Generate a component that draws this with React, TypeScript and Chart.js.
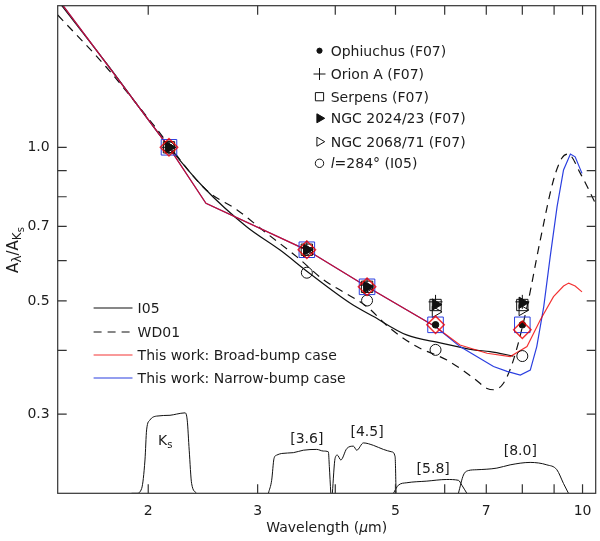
import { useEffect, useRef } from "react";
import { Chart, registerables } from "chart.js";
import { drawPoint } from "chart.js/helpers";

Chart.register(...registerables);

// ---- values ----
// band centres (um): Ks, IRAC [3.6], [4.5], [5.8], [8.0]
const bandWave = [2.16, 3.6, 4.5, 5.8, 8.0];
const ophiuchus = [1.0, 0.63, 0.533, 0.449, 0.449];
const orionA = [1.0, 0.636, 0.537, 0.498, 0.498];
const serpens = [1.0, 0.63, 0.533, 0.491, 0.491];
const ngc2024 = [1.0, 0.63, 0.533, 0.492, 0.496];
const ngc2068 = [1.0, 0.625, 0.53, 0.476, 0.48];
const l284 = [1.0, 0.568, 0.501, 0.401, 0.39];
const broadBand = [1.0, 0.63, 0.533, 0.449, 0.439];
const narrowBand = [1.0, 0.63, 0.533, 0.449, 0.449];

// extinction curves
const i05Wave = [1.43, 1.71, 2.17, 2.45, 2.88, 3.26, 3.64, 4.23, 4.61, 5.21, 5.9, 6.68, 7.1, 7.74];
const i05Ratio = [1.94, 1.465, 0.995, 0.837, 0.699, 0.629, 0.566, 0.495, 0.466, 0.429, 0.414, 0.401, 0.398, 0.39];

const wd01Wave = [1.43, 1.71, 2.01, 2.48, 2.78, 3.1, 3.47, 3.83, 4.12, 4.5, 4.9, 5.41, 6.05, 6.68, 7.02, 7.19, 7.46, 7.74, 8.14, 8.55, 8.98, 9.26, 9.48, 9.92, 10.52];
const wd01Ratio = [1.816, 1.438, 1.131, 0.825, 0.754, 0.679, 0.61, 0.55, 0.521, 0.487, 0.442, 0.407, 0.383, 0.353, 0.337, 0.335, 0.345, 0.383, 0.487, 0.658, 0.863, 0.952, 0.97, 0.889, 0.771];

const broadWave = [1.43, 2.16, 2.477, 3.6, 4.5, 5.8, 6.35, 7.02, 7.65, 8.14, 8.55, 8.98, 9.32, 9.5, 9.73, 9.98];
const broadRatio = [1.957, 1.0, 0.777, 0.629, 0.533, 0.445, 0.41, 0.395, 0.389, 0.407, 0.459, 0.51, 0.535, 0.542, 0.535, 0.521];

const narrowWave = [1.43, 2.16, 2.477, 3.6, 4.5, 5.8, 6.35, 7.19, 7.56, 7.94, 8.24, 8.44, 8.66, 8.87, 9.1, 9.32, 9.56, 9.73, 9.98];
const narrowRatio = [1.957, 1.0, 0.777, 0.629, 0.533, 0.445, 0.407, 0.372, 0.364, 0.358, 0.366, 0.407, 0.487, 0.61, 0.765, 0.903, 0.97, 0.958, 0.889];

// filter transmission profiles (relative units)
const ksWave = [1.88, 1.916, 1.952, 1.976, 1.988, 2.012, 2.063, 2.168, 2.222, 2.292, 2.311, 2.328, 2.349, 2.393];
const ksTrans = [0, 0, 0.06, 0.41, 0.78, 0.9, 0.95, 0.96, 0.975, 0.99, 0.9, 0.53, 0.12, 0];
const irac1Wave = [3.122, 3.16, 3.188, 3.22, 3.28, 3.424, 3.553, 3.734, 3.827, 3.899, 3.913, 3.934];
const irac1Trans = [0, 0.16, 0.43, 0.47, 0.49, 0.5, 0.53, 0.54, 0.52, 0.51, 0.33, 0];
const irac2Wave = [3.957, 3.997, 4.031, 4.083, 4.174, 4.278, 4.331, 4.44, 4.607, 4.781, 4.932, 4.993, 5.011];
const irac2Trans = [0, 0.43, 0.47, 0.41, 0.55, 0.58, 0.53, 0.62, 0.59, 0.54, 0.51, 0.45, 0];
const irac3Wave = [4.962, 5.054, 5.214, 5.616, 6.047, 6.313, 6.394, 6.514];
const irac3Trans = [0, 0.1, 0.13, 0.15, 0.17, 0.16, 0.1, 0];
const irac4Wave = [6.313, 6.432, 6.553, 6.759, 7.28, 7.647, 8.236, 8.761, 9.092, 9.32, 9.493];
const irac4Trans = [0, 0.225, 0.28, 0.29, 0.31, 0.35, 0.38, 0.35, 0.29, 0.12, 0];

const xTicks = [2, 3, 4, 5, 6, 7, 8, 9, 10];
const xLabelled = [2, 3, 5, 7, 10];
const yTicks = [0.3, 0.4, 0.5, 0.6, 0.7, 0.8, 0.9, 1.0];
const yLabelled = [0.3, 0.5, 0.7, 1.0];

// ---- styling ----
const FONT = "'DejaVu Sans', sans-serif";
const INK = "#1c1c1c";
const BLACK = "#111111";
const RED = "rgba(240,0,0,0.8)";
const BLUE = "#2b3fe0";
const TICK = 9;

const pts = (xs: number[], ys: number[]) => xs.map((x, i) => ({ x, y: ys[i] }));

type Run = { t: string; size: number; dy?: number; italic?: boolean };

function fontOf(r: Run) {
  return `${r.italic ? "italic " : ""}${r.size}px ${FONT}`;
}

function drawRuns(ctx: CanvasRenderingContext2D, runs: Run[], x: number, y: number, center: boolean) {
  let w = 0;
  for (const r of runs) {
    ctx.font = fontOf(r);
    w += ctx.measureText(r.t).width;
  }
  let cx = center ? x - w / 2 : x;
  ctx.textAlign = "left";
  ctx.textBaseline = "alphabetic";
  for (const r of runs) {
    ctx.font = fontOf(r);
    ctx.fillText(r.t, cx, y + (r.dy || 0));
    cx += ctx.measureText(r.t).width;
  }
}

const decorPlugin = {
  id: "decor",
  afterDraw(chart: Chart) {
    const { ctx, chartArea: a } = chart;
    const sx = chart.scales.x;
    const sy = chart.scales.y;
    const s2 = chart.scales.y2;
    ctx.save();

    // frame + inward ticks on all sides
    ctx.strokeStyle = "#333";
    ctx.lineWidth = 1.2;
    ctx.strokeRect(a.left, a.top, a.right - a.left, a.bottom - a.top);
    ctx.beginPath();
    sx.ticks.forEach((t) => {
      const p = sx.getPixelForValue(t.value);
      ctx.moveTo(p, a.bottom);
      ctx.lineTo(p, a.bottom - TICK);
      ctx.moveTo(p, a.top);
      ctx.lineTo(p, a.top + TICK);
    });
    sy.ticks.forEach((t) => {
      const p = sy.getPixelForValue(t.value);
      ctx.moveTo(a.left, p);
      ctx.lineTo(a.left + TICK, p);
      ctx.moveTo(a.right, p);
      ctx.lineTo(a.right - TICK, p);
    });
    ctx.stroke();

    ctx.fillStyle = INK;

    // axis titles
    drawRuns(ctx, [
      { t: "Wavelength (", size: 14 },
      { t: "\u00b5", size: 14, italic: true },
      { t: "m)", size: 14 },
    ], (a.left + a.right) / 2, 532, true);

    ctx.save();
    ctx.translate(18, 250);
    ctx.rotate(-Math.PI / 2);
    drawRuns(ctx, [
      { t: "A", size: 15 },
      { t: "\u03bb", size: 12, dy: 3 },
      { t: "/A", size: 15 },
      { t: "K", size: 12, dy: 3 },
      { t: "s", size: 10, dy: 6 },
    ], 0, 0, true);
    ctx.restore();

    // filter names
    const fx = (w: number) => sx.getPixelForValue(w);
    const fy = (v: number) => s2.getPixelForValue(v);
    drawRuns(ctx, [{ t: "K", size: 14 }, { t: "s", size: 10, dy: 3 }], fx(2.13), fy(0.6), true);
    drawRuns(ctx, [{ t: "[3.6]", size: 14 }], fx(3.6), fy(0.62), true);
    drawRuns(ctx, [{ t: "[4.5]", size: 14 }], fx(4.5), fy(0.7), true);
    drawRuns(ctx, [{ t: "[5.8]", size: 14 }], fx(5.75), fy(0.255), true);
    drawRuns(ctx, [{ t: "[8.0]", size: 14 }], fx(7.94), fy(0.475), true);

    // symbol legend (top right)
    const mx = 319.5;
    const tx = 330.7;
    const symRows: { y: number; style: string; r: number; rot: number; fill: string; runs: Run[] }[] = [
      { y: 50.7, style: "circle", r: 2.6, rot: 0, fill: BLACK, runs: [{ t: "Ophiuchus (F07)", size: 14 }] },
      { y: 74, style: "cross", r: 6, rot: 0, fill: "rgba(0,0,0,0)", runs: [{ t: "Orion A (F07)", size: 14 }] },
      { y: 96.7, style: "rect", r: 5.8, rot: 0, fill: "rgba(0,0,0,0)", runs: [{ t: "Serpens (F07)", size: 14 }] },
      { y: 118.3, style: "triangle", r: 5.2, rot: 90, fill: BLACK, runs: [{ t: "NGC 2024/23 (F07)", size: 14 }] },
      { y: 141.7, style: "triangle", r: 5.2, rot: 90, fill: "rgba(0,0,0,0)", runs: [{ t: "NGC 2068/71 (F07)", size: 14 }] },
      { y: 163.3, style: "circle", r: 4.2, rot: 0, fill: "rgba(0,0,0,0)", runs: [{ t: "l", size: 14, italic: true }, { t: "=284\u00b0 (I05)", size: 14 }] },
    ];
    symRows.forEach((row) => {
      ctx.fillStyle = row.fill;
      ctx.strokeStyle = BLACK;
      ctx.lineWidth = 1;
      drawPoint(ctx, { pointStyle: row.style as any, radius: row.r, rotation: row.rot, borderWidth: 1 }, mx, row.y);
      ctx.fillStyle = INK;
      drawRuns(ctx, row.runs, tx, row.y + 5, false);
    });

    // line legend (lower left)
    const lineRows = [
      { y: 308, color: BLACK, dash: [] as number[], text: "I05" },
      { y: 332, color: BLACK, dash: [8, 6], text: "WD01" },
      { y: 355, color: RED, dash: [], text: "This work: Broad-bump case" },
      { y: 378, color: BLUE, dash: [], text: "This work: Narrow-bump case" },
    ];
    lineRows.forEach((row) => {
      ctx.strokeStyle = row.color;
      ctx.lineWidth = 1.2;
      ctx.setLineDash(row.dash);
      ctx.beginPath();
      ctx.moveTo(93.6, row.y);
      ctx.lineTo(132.5, row.y);
      ctx.stroke();
      ctx.setLineDash([]);
      ctx.fillStyle = INK;
      drawRuns(ctx, [{ t: row.text, size: 14 }], 137.6, row.y + 5, false);
    });

    ctx.restore();
  },
};

export default function App() {
  const canvasRef = useRef<HTMLCanvasElement | null>(null);
  const chartRef = useRef<Chart | null>(null);

  useEffect(() => {
    if (!canvasRef.current) return;
    const ctx = canvasRef.current.getContext("2d");
    if (!ctx) return;

    if (chartRef.current) chartRef.current.destroy();

    const curve = (label: string, xs: number[], ys: number[], color: string, order: number, extra: any = {}) => ({
      type: "line" as const,
      label,
      data: pts(xs, ys),
      borderColor: color,
      borderWidth: 1.2,
      pointRadius: 0,
      fill: false,
      order,
      ...extra,
    });

    const filter = (label: string, xs: number[], ys: number[]) => ({
      type: "line" as const,
      label,
      data: pts(xs, ys),
      yAxisID: "y2",
      borderColor: BLACK,
      borderWidth: 1,
      pointRadius: 0,
      fill: false,
      cubicInterpolationMode: "monotone",
      order: 20,
    });

    const marks = (label: string, ys: number[], style: string, radius: number, stroke: string, bg: string, order: number, extra: any = {}) => ({
      type: "line" as const,
      label,
      data: pts(bandWave, ys),
      showLine: false,
      pointStyle: style,
      pointRadius: radius,
      pointBorderColor: stroke,
      pointBackgroundColor: bg,
      pointBorderWidth: 1,
      order,
      ...extra,
    });

    const clear = "rgba(0,0,0,0)";

    chartRef.current = new Chart(ctx, {
      type: "line",
      data: {
        datasets: [
          marks("Broad-bump bands", broadBand, "rectRot", 8.7, RED, clear, 0, { pointBorderWidth: 1.5 }),
          marks("Narrow-bump bands", narrowBand, "rect", 11, BLUE, clear, 1),
          marks("Ophiuchus (F07)", ophiuchus, "circle", 3.3, BLACK, BLACK, 2),
          marks("NGC 2024/23 (F07)", ngc2024, "triangle", 6.5, BLACK, BLACK, 3, { pointRotation: 90 }),
          marks("Orion A (F07)", orionA, "cross", 7, BLACK, clear, 4),
          marks("Serpens (F07)", serpens, "rect", 8, BLACK, clear, 5),
          marks("NGC 2068/71 (F07)", ngc2068, "triangle", 6.5, BLACK, clear, 6, { pointRotation: 90 }),
          marks("l=284 (I05)", l284, "circle", 5.5, BLACK, clear, 7),
          curve("This work: Broad-bump case", broadWave, broadRatio, RED, 8),
          curve("This work: Narrow-bump case", narrowWave, narrowRatio, BLUE, 9),
          curve("I05", i05Wave, i05Ratio, BLACK, 10, { cubicInterpolationMode: "monotone" }),
          curve("WD01", wd01Wave, wd01Ratio, BLACK, 11, { cubicInterpolationMode: "monotone", borderDash: [8, 6] }),
          filter("Ks", ksWave, ksTrans),
          filter("[3.6]", irac1Wave, irac1Trans),
          filter("[4.5]", irac2Wave, irac2Trans),
          filter("[5.8]", irac3Wave, irac3Trans),
          filter("[8.0]", irac4Wave, irac4Trans),
        ] as any,
      },
      options: {
        animation: false,
        responsive: false,
        events: [],
        layout: { autoPadding: false, padding: { top: 5.7, right: 4.3, left: 0, bottom: 0 } },
        plugins: {
          legend: { display: false },
          tooltip: { enabled: false },
          title: { display: false },
        },
        scales: {
          x: {
            type: "logarithmic",
            min: 1.43,
            max: 10.5,
            bounds: "data",
            grid: { display: false, drawTicks: false },
            border: { display: false },
            afterBuildTicks: (s: any) => {
              s.ticks = xTicks.map((v) => ({ value: v }));
            },
            afterFit: (s: any) => {
              s.height = 47.7;
              s.paddingLeft = 0;
              s.paddingRight = 0;
              s.paddingTop = 0;
              s.paddingBottom = 0;
            },
            ticks: {
              autoSkip: false,
              maxRotation: 0,
              padding: 10,
              color: INK,
              font: { family: FONT, size: 14 },
              callback: (v: any) => (xLabelled.includes(Number(v)) ? String(v) : ""),
            },
          },
          y: {
            type: "logarithmic",
            min: 0.21,
            max: 1.894,
            bounds: "data",
            grid: { display: false, drawTicks: false },
            border: { display: false },
            afterBuildTicks: (s: any) => {
              s.ticks = yTicks.map((v) => ({ value: v }));
            },
            afterFit: (s: any) => {
              s.width = 57.7;
              s.paddingLeft = 0;
              s.paddingRight = 0;
              s.paddingTop = 0;
              s.paddingBottom = 0;
            },
            ticks: {
              autoSkip: false,
              padding: 8,
              color: INK,
              font: { family: FONT, size: 14 },
              callback: (v: any) => (yLabelled.includes(Number(v)) ? Number(v).toFixed(1) : ""),
            },
          },
          y2: {
            type: "linear",
            display: false,
            min: 0,
            max: 6,
          },
        },
      } as any,
      plugins: [decorPlugin],
    });

    return () => {
      chartRef.current?.destroy();
      chartRef.current = null;
    };
  }, []);

  return (
    <div style={{ position: "fixed", left: 0, top: 0, width: 600, height: 541, background: "#ffffff" }}>
      <canvas ref={canvasRef} width={600} height={541} style={{ display: "block", width: 600, height: 541 }}></canvas>
    </div>
  );
}
